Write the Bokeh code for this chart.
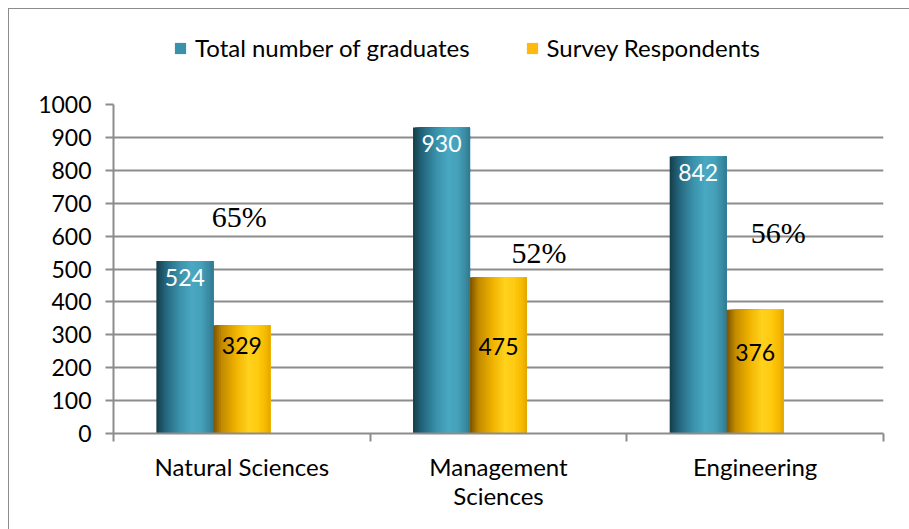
from bokeh.plotting import figure
from bokeh.layouts import column
from bokeh.models import Range1d, FixedTicker, Legend, LegendItem, ColumnDataSource
from bokeh.core.properties import value
from bokeh.embed import file_html
from bokeh.resources import INLINE

# ---------------- data ----------------
categories = ["Natural Sciences", "Management Sciences", "Engineering"]
tick_labels = ["Natural Sciences", "Management\nSciences", "Engineering"]
series_names = ["Total number of graduates", "Survey Respondents"]
total_graduates = [524, 930, 842]
survey_respondents = [329, 475, 376]
response_rate_labels = ["65%", "52%", "56%"]
y_ticks = [0, 100, 200, 300, 400, 500, 600, 700, 800, 900, 1000]

# ---------------- layout / style ----------------
BAR_W = 0.222
OFFSETS = [0.278, 0.5]
RATE_X = [0.49, 1.658, 2.59]
RATE_Y = [660, 550, 611]
RESP_LABEL_Y = [267, 264, 246]
GRID = "#8c8c8c"
FONT = "Lato"
W = 900
LEG_H = 70
MAIN_H = 450

BLUE_STOPS = [(0.0, "#163c48"), (0.15, "#22637a"), (0.4, "#3a90a9"),
              (0.62, "#4aa8c2"), (0.78, "#46a1ba"), (0.92, "#3a8aa2"), (1.0, "#2e7a90")]
YEL_STOPS = [(0.0, "#7a5200"), (0.15, "#c28a00"), (0.4, "#f0b300"),
             (0.62, "#ffd21e"), (0.78, "#ffca10"), (0.92, "#f5b800"), (1.0, "#e2a500")]


def hex2rgb(h):
    h = h.lstrip("#")
    return tuple(int(h[i:i + 2], 16) for i in (0, 2, 4))


def interp(stops, t):
    for (t0, c0), (t1, c1) in zip(stops[:-1], stops[1:]):
        if t0 <= t <= t1:
            f = (t - t0) / (t1 - t0)
            a, b = hex2rgb(c0), hex2rgb(c1)
            return "#%02x%02x%02x" % tuple(int(round(a[i] + (b[i] - a[i]) * f)) for i in range(3))
    return stops[-1][1]


# ---------------- legend strip (own figure) ----------------
lf = figure(width=W, height=LEG_H, x_range=Range1d(0, 10), y_range=Range1d(0, 10),
            output_backend="svg", toolbar_location=None,
            x_axis_location=None, y_axis_location=None,
            min_border_left=0, min_border_right=0, min_border_top=0, min_border_bottom=0)
lf.grid.visible = False
lf.outline_line_color = None
# legend swatch renderers (their single box sits outside the visible range)
dummy_b = lf.quad(left=[-5], right=[-4], top=[-4], bottom=[-5], fill_color="#3a92aa", line_color=None)
dummy_y = lf.quad(left=[-5], right=[-4], top=[-4], bottom=[-5], fill_color="#ffb90f", line_color=None)
legend = Legend(items=[LegendItem(label=series_names[0], renderers=[dummy_b]),
                       LegendItem(label=series_names[1], renderers=[dummy_y])],
                orientation="horizontal", location=(60, 17),
                border_line_color=None, background_fill_alpha=0, padding=0, margin=0,
                spacing=55, glyph_width=14, glyph_height=14, label_standoff=8,
                label_text_font=FONT, label_text_font_size="24px", label_text_color="black")
lf.add_layout(legend)

# ---------------- main chart ----------------
p = figure(width=W, height=MAIN_H, x_range=Range1d(0, 3), y_range=Range1d(0, 1000),
           output_backend="svg", toolbar_location=None,
           min_border_left=104, min_border_right=26, min_border_top=25, min_border_bottom=96)
p.outline_line_color = None

# gradient bars: layered quads, each covering from its left edge to the bar's right edge
N = 30
for vals, off, stops in [(total_graduates, OFFSETS[0], BLUE_STOPS),
                         (survey_respondents, OFFSETS[1], YEL_STOPS)]:
    L, R, T, C = [], [], [], []
    for i, v in enumerate(vals):
        c = i + off
        left0, right0 = c - BAR_W / 2, c + BAR_W / 2
        for k in range(N):
            t = k / N
            L.append(left0 + t * BAR_W)
            R.append(right0)
            T.append(v)
            C.append(interp(stops, (k + 0.5) / N))
    src = ColumnDataSource(dict(left=L, right=R, top=T, color=C))
    p.quad(left="left", right="right", top="top", bottom=0, source=src,
           fill_color="color", line_color=None)

# value labels
bx = [i + OFFSETS[0] for i in range(len(categories))]
yx = [i + OFFSETS[1] for i in range(len(categories))]
p.text(x=bx, y=total_graduates, text=[str(v) for v in total_graduates],
       text_align="center", text_baseline="middle", y_offset=16,
       text_font=value(FONT), text_font_size="23px", text_color="white")
p.text(x=yx, y=RESP_LABEL_Y, text=[str(v) for v in survey_respondents],
       text_align="center", text_baseline="middle",
       text_font=value(FONT), text_font_size="23px", text_color="black")
p.text(x=RATE_X, y=RATE_Y, text=response_rate_labels,
       text_align="center", text_baseline="middle",
       text_font=value("Liberation Serif"), text_font_size="30px", text_color="black")

# axes and grid
p.xgrid.visible = False
p.ygrid.ticker = FixedTicker(ticks=y_ticks)
p.ygrid.grid_line_color = GRID
p.ygrid.grid_line_width = 2

p.yaxis.ticker = FixedTicker(ticks=y_ticks)
p.yaxis.axis_line_color = GRID
p.yaxis.axis_line_width = 2
p.yaxis.major_tick_line_color = GRID
p.yaxis.major_tick_line_width = 2
p.yaxis.major_tick_in = 0
p.yaxis.major_tick_out = 8
p.yaxis.minor_tick_line_color = None
p.yaxis.major_label_standoff = 14
p.yaxis.major_label_text_font = FONT
p.yaxis.major_label_text_font_size = "23px"
p.yaxis.major_label_text_color = "black"

centers = [i + 0.5 for i in range(len(categories))]
bounds = [float(i) for i in range(len(categories) + 1)]
p.xaxis.ticker = FixedTicker(ticks=centers, minor_ticks=bounds)
p.xaxis.major_label_overrides = {c: lab for c, lab in zip(centers, tick_labels)}
p.xaxis.axis_line_color = GRID
p.xaxis.axis_line_width = 2
p.xaxis.major_tick_line_color = None
p.xaxis.major_tick_in = 0
p.xaxis.major_tick_out = 0
p.xaxis.minor_tick_line_color = GRID
p.xaxis.minor_tick_line_width = 2
p.xaxis.minor_tick_in = 0
p.xaxis.minor_tick_out = 8
p.xaxis.major_label_standoff = 10
p.xaxis.major_label_text_font = FONT
p.xaxis.major_label_text_font_size = "24px"
p.xaxis.major_label_text_line_height = 1.0
p.xaxis.major_label_text_color = "black"

root = column(lf, p, spacing=0)
root.styles = {"margin-left": "8px", "margin-top": "8px",
               "border-left": "1px solid #8c8c8c", "border-top": "1px solid #8c8c8c"}

open("out.html", "w").write(file_html(root, INLINE))
